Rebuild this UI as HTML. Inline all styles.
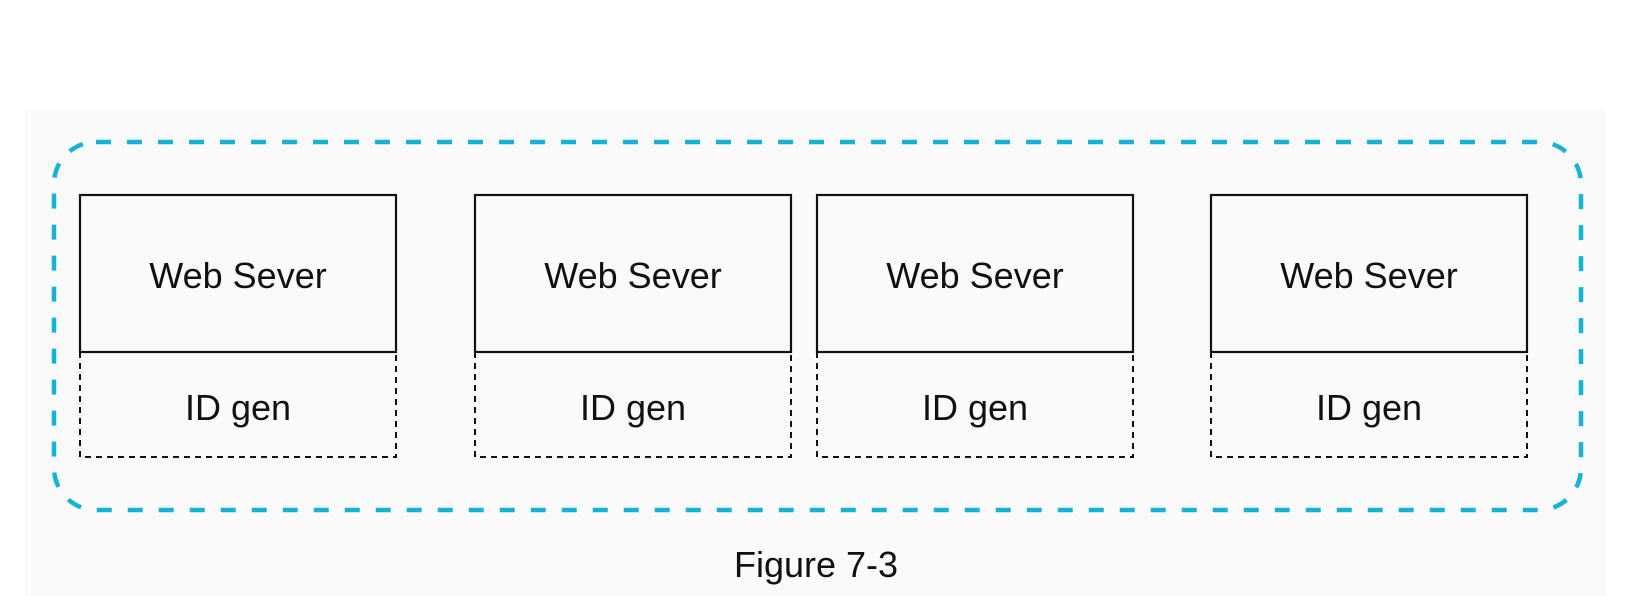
<!DOCTYPE html>
<html><head><meta charset="utf-8"><style>
html,body{margin:0;padding:0;background:#fff;}
svg{display:block;}
text{font-family:"Liberation Sans",Arial,sans-serif;fill:#111;}
</style></head><body>
<svg width="1648" height="596" viewBox="0 0 1648 596" xmlns="http://www.w3.org/2000/svg">
<rect x="0" y="0" width="1648" height="596" fill="#ffffff"/>
<rect x="25" y="110" width="1581" height="486" fill="#fafafa"/>
<rect x="54" y="142" width="1527" height="368" rx="42" ry="42" fill="none" stroke="#17b3d6" stroke-width="4.5" stroke-dasharray="15 16"/>
<g stroke="#111" fill="none">
  <g>
    <rect x="80" y="195" width="316" height="157" stroke-width="2.2"/>
    <path d="M80 352 V457 H396 V352" stroke-width="2" stroke-dasharray="6 5"/>
  </g>
  <g>
    <rect x="475" y="195" width="316" height="157" stroke-width="2.2"/>
    <path d="M475 352 V457 H791 V352" stroke-width="2" stroke-dasharray="6 5"/>
  </g>
  <g>
    <rect x="817" y="195" width="316" height="157" stroke-width="2.2"/>
    <path d="M817 352 V457 H1133 V352" stroke-width="2" stroke-dasharray="6 5"/>
  </g>
  <g>
    <rect x="1211" y="195" width="316" height="157" stroke-width="2.2"/>
    <path d="M1211 352 V457 H1527 V352" stroke-width="2" stroke-dasharray="6 5"/>
  </g>
</g>
<g font-size="36" text-anchor="middle">
  <text x="238" y="288">Web Sever</text>
  <text x="633" y="288">Web Sever</text>
  <text x="975" y="288">Web Sever</text>
  <text x="1369" y="288">Web Sever</text>
  <text x="238" y="420">ID gen</text>
  <text x="633" y="420">ID gen</text>
  <text x="975" y="420">ID gen</text>
  <text x="1369" y="420">ID gen</text>
  <text x="816" y="577">Figure 7-3</text>
</g>
</svg>
</body></html>
